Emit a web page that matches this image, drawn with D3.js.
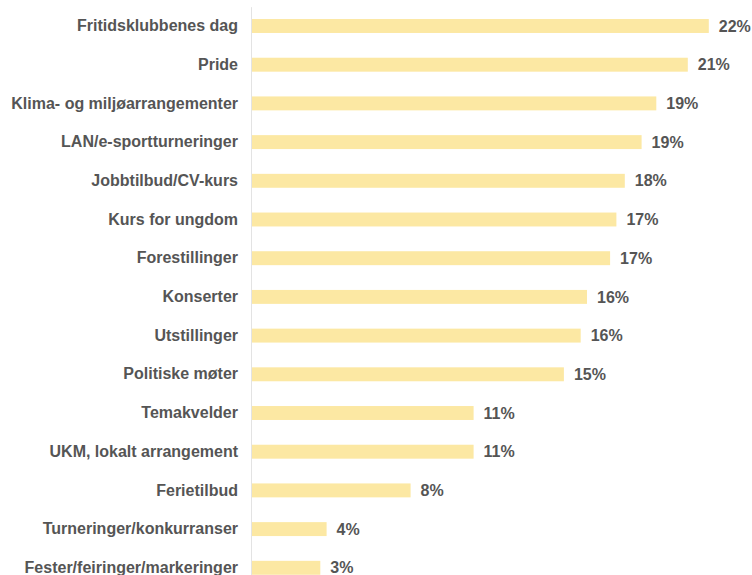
<!DOCTYPE html>
<meta charset="utf-8">
<script src="https://d3js.org/d3.v7.min.js"></script>
<style>
  body { margin: 0; background: #fff; }
  .axis text { font-family: "Liberation Sans", Arial, sans-serif; font-weight: bold; font-size: 16px; fill: #555; }
  .val { font-family: "Liberation Sans", Arial, sans-serif; font-weight: bold; font-size: 16px; fill: #555; }
</style>
<div id="chart"></div>
<script>
  // categories top to bottom
  var categories = [
    "Fritidsklubbenes dag", "Pride", "Klima- og miljøarrangementer",
    "LAN/e-sportturneringer", "Jobbtilbud/CV-kurs", "Kurs for ungdom",
    "Forestillinger", "Konserter", "Utstillinger", "Politiske møter",
    "Temakvelder", "UKM, lokalt arrangement", "Ferietilbud",
    "Turneringer/konkurranser", "Fester/feiringer/markeringer"
  ];
  // shares (%)
  var values = [21.8, 20.8, 19.3, 18.6, 17.8, 17.4, 17.1, 16.0, 15.7, 14.9, 10.6, 10.6, 7.6, 3.6, 3.3];

  var width = 752, height = 575;

  var svg = d3.select("#chart").append("svg")
    .attr("width", width)
    .attr("height", height);

  var x = d3.scaleLinear()
    .domain([0, 25])
    .range([251, 776]);

  var y = d3.scaleBand()
    .domain(categories)
    .range([6.65, 587.15])
    .paddingInner(0.64)
    .paddingOuter(0.32);

  // left axis holds the category labels
  svg.append("g")
    .attr("class", "axis")
    .attr("transform", "translate(" + x(0) + ",0)")
    .call(d3.axisLeft(y).tickSize(0).tickPadding(13))
    .call(function (g) { g.select(".domain").attr("stroke", "#e3e3e3"); });

  var data = categories.map(function (c, i) { return { cat: c, v: values[i] }; });

  svg.append("g")
    .selectAll("rect")
    .data(data)
    .enter()
    .append("rect")
    .attr("x", x(0) + 1)
    .attr("y", function (d) { return y(d.cat); })
    .attr("width", function (d) { return x(d.v) - x(0) - 1; })
    .attr("height", y.bandwidth())
    .attr("fill", "#fce8a3");

  svg.append("g")
    .selectAll("text")
    .data(data)
    .enter()
    .append("text")
    .attr("class", "val")
    .attr("x", function (d) { return x(d.v) + 10; })
    .attr("y", function (d) { return y(d.cat) + y.bandwidth() / 2; })
    .attr("dy", "0.35em")
    .text(function (d) { return Math.round(d.v) + "%"; });
</script>
